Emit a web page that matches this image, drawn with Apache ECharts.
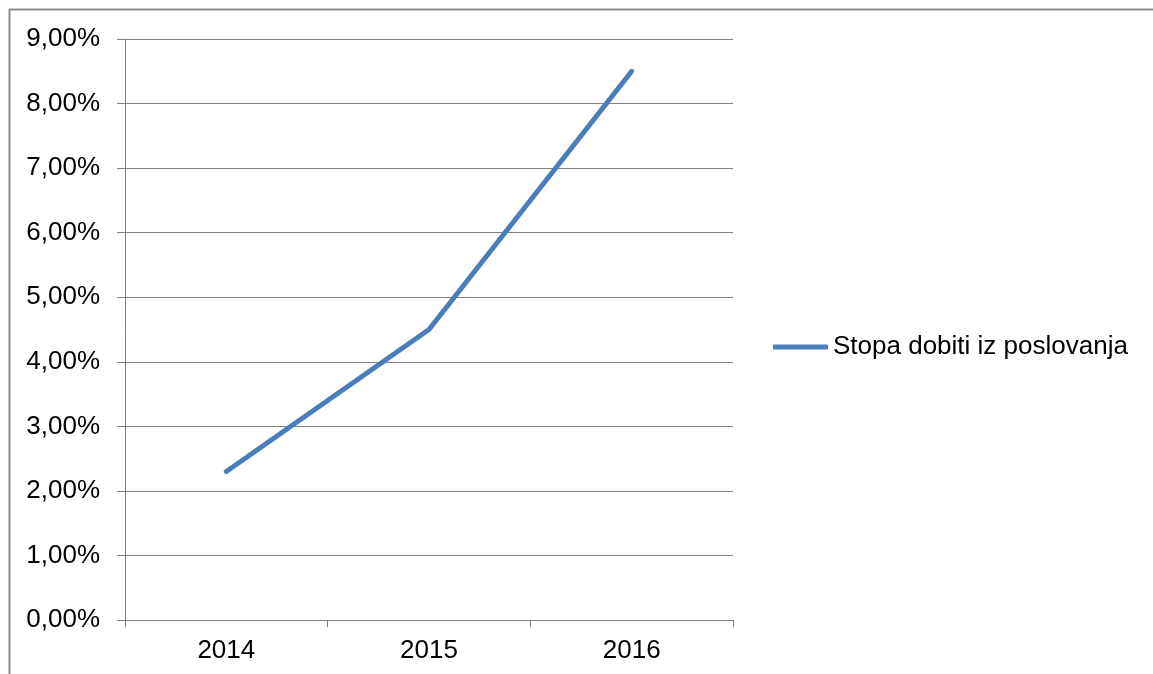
<!DOCTYPE html>
<html>
<head>
<meta charset="utf-8">
<script src="https://cdn.jsdelivr.net/npm/echarts@6/dist/echarts.min.js"></script>
<style>
html,body{margin:0;padding:0;background:#fff;}
#chart{width:1153px;height:674px;}
</style>
</head>
<body>
<div id="chart"></div>
<script>
const categories = ['2014', '2015', '2016'];
const seriesName = 'Stopa dobiti iz poslovanja';
const values = [2.3, 4.5, 8.5];

const chart = echarts.init(document.getElementById('chart'));
const font = 'Liberation Sans, Arial, sans-serif';
const gray = '#808080';
chart.setOption({
  animation: false,
  backgroundColor: '#ffffff',
  graphic: [{
    type: 'rect',
    shape: { x: 9.5, y: 9.5, width: 1200, height: 800 },
    style: { fill: 'none', stroke: '#8c8c8c', lineWidth: 2 },
    silent: true
  }],
  grid: { left: 125, top: 39, right: 420, bottom: 54, containLabel: false },
  legend: {
    data: [seriesName],
    left: 773, top: 334, orient: 'vertical', padding: 0,
    itemWidth: 55, itemHeight: 5, itemGap: 5,
    icon: 'roundRect',
    itemStyle: { color: '#4a7ebb', borderWidth: 0 },
    textStyle: { fontFamily: font, fontSize: 26, color: '#000' }
  },
  xAxis: {
    type: 'category',
    data: categories,
    boundaryGap: true,
    axisLine: { lineStyle: { color: gray, width: 1 } },
    axisTick: { show: true, length: 7, alignWithLabel: false, lineStyle: { color: gray } },
    axisLabel: { fontFamily: font, fontSize: 26, color: '#000', margin: 18 }
  },
  yAxis: {
    type: 'value',
    min: 0, max: 9, interval: 1,
    axisLine: { show: true, lineStyle: { color: gray, width: 1 } },
    axisTick: { show: true, length: 8, lineStyle: { color: gray } },
    splitLine: { show: true, lineStyle: { color: gray, width: 1 } },
    axisLabel: {
      fontFamily: font, fontSize: 26, color: '#000', margin: 25,
      formatter: v => v.toFixed(2).replace('.', ',') + '%'
    }
  },
  series: [{
    name: seriesName,
    type: 'line',
    data: values,
    symbol: 'none',
    lineStyle: { color: '#4a7ebb', width: 5, cap: 'round', join: 'round' },
    itemStyle: { color: '#4a7ebb' }
  }]
});
</script>
</body>
</html>
